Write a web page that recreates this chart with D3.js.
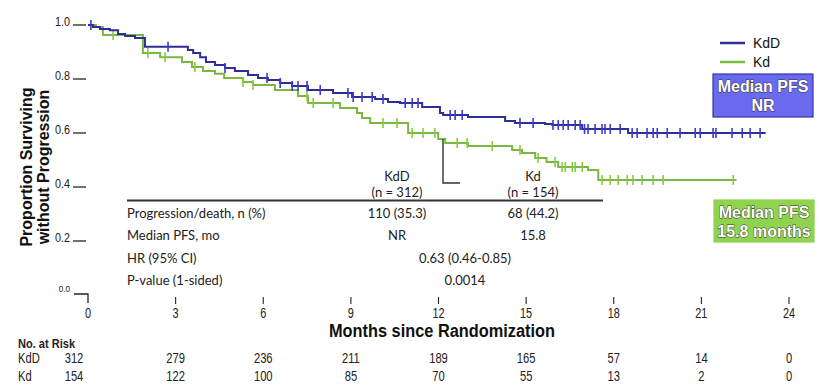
<!DOCTYPE html>
<html>
<head>
<meta charset="utf-8">
<script src="https://cdn.jsdelivr.net/npm/d3@7"></script>
<style>
  body { margin: 0; background: #fff; }
  svg { display: block; }
</style>
</head>
<body>
<svg id="km"></svg>
<script>
// step drops: [month, survival after drop]
const kddSteps = [[0.17,0.993],[0.41,0.985],[0.75,0.981],[1.03,0.967],[1.27,0.959],[1.61,0.952],[1.95,0.919],
  [3.42,0.907],[3.6,0.896],[3.84,0.881],[4.04,0.863],[4.35,0.852],[4.69,0.841],[5.03,0.830],[5.48,0.815],
  [5.82,0.804],[6.16,0.796],[6.58,0.785],[6.99,0.774],[7.53,0.759],[8.39,0.748],[9.04,0.733],[9.83,0.726],
  [10.27,0.715],[10.68,0.711],[11.44,0.696],[12.05,0.674],[12.16,0.667],[13.01,0.659],[14.28,0.644],
  [14.62,0.637],[15.65,0.633],[15.9,0.630],[16.92,0.615],[18.49,0.600]];
const kddEnd = 23.2;
const kddCensor = [0.1,2.74,4.69,6.13,6.58,6.99,7.19,7.5,7.95,8.9,9.08,9.38,9.73,10.1,10.86,11.1,11.3,12.4,12.57,
  12.81,14.79,15.24,15.92,16.1,16.27,16.44,16.68,16.85,17.0,17.12,17.36,17.6,17.7,17.88,18.22,18.63,18.8,19.14,
  19.35,19.49,19.83,20.27,20.79,20.96,21.4,21.5,22.05,22.4,22.67,23.01];

const kdSteps = [[0.27,0.993],[0.51,0.963],[1.88,0.896],[2.47,0.881],[3.22,0.863],[3.56,0.844],[3.94,0.830],
  [4.35,0.819],[4.66,0.804],[5.31,0.789],[5.65,0.778],[6.4,0.759],[7.19,0.737],[7.53,0.711],[8.63,0.693],
  [9.21,0.674],[9.38,0.656],[9.66,0.637],[10.96,0.600],[11.99,0.578],[12.23,0.563],[13.01,0.552],[14.52,0.537],
  [14.86,0.526],[15.31,0.507],[15.7,0.493],[16.1,0.474],[17.12,0.463],[17.47,0.426]];
const kdEnd = 22.2;
const kdCensor = [0.86,2.05,2.64,3.66,5.31,5.65,7.5,7.71,8.39,10.1,10.58,11.1,11.47,11.88,12.64,12.98,13.84,
  14.79,15.41,15.99,16.23,16.34,16.58,16.68,16.92,17.6,17.88,18.15,18.46,18.66,18.97,19.35,19.69,22.09];

const xTicks = [0,3,6,9,12,15,18,21,24];
const yTicks = [1.0,0.8,0.6,0.4,0.2];
const riskKdD = [312,279,236,211,189,165,57,14,0];
const riskKd = [154,122,100,85,70,55,13,2,0];

const tableRows = ["Progression/death, n (%)","Median PFS, mo","HR (95% CI)","P-value (1-sided)"];
const kddCol = ["110 (35.3)","NR"];
const kdCol = ["68 (44.2)","15.8"];
const sharedCol = ["0.63 (0.46-0.85)","0.0014"];

const W = 820, H = 389;
const svg = d3.select('#km').attr('width', W).attr('height', H);

const x = d3.scaleLinear().domain([0, 24]).range([88, 789]);
const y = d3.scaleLinear().domain([0, 1]).range([295, 25]);

const blue = '#2e2e94', blueMark = '#3b3bcf';
const green = '#7ab843', greenMark = '#86cc3c';
const arial = 'Liberation Sans, Arial, sans-serif';
const tableFont = 'Lato, "Open Sans", sans-serif';

// condensed text: squeeze horizontally around the anchor point
function narrowText(px, py, txt, size, anchor, sx) {
  return svg.append('text').attr('transform', `translate(${px},${py}) scale(${sx || 0.8},1)`)
    .attr('text-anchor', anchor || 'middle').style('font-family', arial)
    .style('font-size', size + 'px').attr('fill', '#222').text(txt);
}

// y axis ticks (underscore style)
yTicks.forEach(v => {
  svg.append('line').attr('x1', 73).attr('x2', 86).attr('y1', y(v)).attr('y2', y(v))
    .attr('stroke', '#222').attr('stroke-width', 1.3);
  narrowText(70, y(v) + 1, v.toFixed(1), 12, 'end', 0.9);
});
// zero corner
svg.append('path').attr('d', `M74,${y(0) - 1}H${x(0)}V${y(0) + 8}`)
  .attr('fill', 'none').attr('stroke', '#222').attr('stroke-width', 1.3);
narrowText(70, y(0) - 3, '0.0', 9, 'end', 0.9);

// x ticks
xTicks.forEach(v => {
  if (v > 0) {
    svg.append('line').attr('x1', x(v)).attr('x2', x(v)).attr('y1', 297).attr('y2', 304)
      .attr('stroke', '#222').attr('stroke-width', 1.1);
  }
  narrowText(x(v), 318, v, 14, 'middle', 0.78);
});

svg.append('text').attr('x', 442).attr('y', 337).attr('text-anchor', 'middle')
  .style('font-family', arial).style('font-weight', 'bold').style('font-size', '18px').attr('fill', '#111')
  .attr('textLength', 226).attr('lengthAdjust', 'spacingAndGlyphs')
  .text('Months since Randomization');

// y title
const yt = svg.append('text').attr('transform', 'translate(0,167) rotate(-90)')
  .attr('text-anchor', 'middle').style('font-family', arial)
  .style('font-weight', 'bold').style('font-size', '16px').attr('fill', '#111');
yt.append('tspan').attr('x', 0).attr('y', 32).text('Proportion Surviving');
yt.append('tspan').attr('x', 0).attr('y', 49).text('without Progression');

// KM curves
function stepPoints(steps, end) {
  const pts = [[0, 1]].concat(steps);
  pts.push([end, steps[steps.length - 1][1]]);
  return pts;
}
function survAt(steps, t) {
  let s = 1;
  steps.forEach(d => { if (d[0] <= t) s = d[1]; });
  return s;
}
const line = d3.line().x(d => x(d[0])).y(d => y(d[1])).curve(d3.curveStepAfter);

function drawCurve(steps, end, censor, col, markCol) {
  svg.append('path').datum(stepPoints(steps, end)).attr('d', line)
    .attr('fill', 'none').attr('stroke', col).attr('stroke-width', 2);
  svg.selectAll(null).data(censor).enter().append('line')
    .attr('x1', d => x(d)).attr('x2', d => x(d))
    .attr('y1', d => y(survAt(steps, d)) - 5).attr('y2', d => y(survAt(steps, d)) + 5)
    .attr('stroke', markCol).attr('stroke-width', 1.6);
}
drawCurve(kdSteps, kdEnd, kdCensor, green, greenMark);
drawCurve(kddSteps, kddEnd, kddCensor, blue, blueMark);

// bracket
svg.append('path').attr('d', `M443,${y(survAt(kdSteps, 12.1))}V183H460`)
  .attr('fill', 'none').attr('stroke', '#333').attr('stroke-width', 1.4);

// summary table
const tf = sel => sel.style('font-family', tableFont).style('font-size', '13px').attr('fill', '#222');
svg.append('line').attr('x1', 127).attr('x2', 603).attr('y1', 200.5).attr('y2', 200.5)
  .attr('stroke', '#333').attr('stroke-width', 2);
[['KdD', '(n = 312)', 397], ['Kd', '(n = 154)', 533]].forEach(h => {
  svg.append('text').attr('x', h[2]).attr('y', 181).attr('text-anchor', 'middle').call(tf).text(h[0]);
  svg.append('text').attr('x', h[2]).attr('y', 197).attr('text-anchor', 'middle').call(tf).text(h[1]);
});
const rowY = [218, 240, 263, 285];
tableRows.forEach((r, i) => {
  svg.append('text').attr('x', 127).attr('y', rowY[i]).call(tf).text(r);
});
kddCol.forEach((v, i) => svg.append('text').attr('x', 397).attr('y', rowY[i]).attr('text-anchor', 'middle').call(tf).text(v));
kdCol.forEach((v, i) => svg.append('text').attr('x', 533).attr('y', rowY[i]).attr('text-anchor', 'middle').call(tf).text(v));
sharedCol.forEach((v, i) => svg.append('text').attr('x', 465).attr('y', rowY[i + 2]).attr('text-anchor', 'middle').call(tf).text(v));

// legend
[['KdD', blue, 43], ['Kd', green, 62]].forEach(l => {
  svg.append('line').attr('x1', 720).attr('x2', 745).attr('y1', l[2]).attr('y2', l[2])
    .attr('stroke', l[1]).attr('stroke-width', 2.5);
  svg.append('text').attr('x', 753).attr('y', l[2] + 5).style('font-family', arial)
    .style('font-size', '14px').attr('fill', '#111').text(l[0]);
});

// median boxes
function medianBox(x0, y0, w, h, fill, stroke, lines) {
  svg.append('rect').attr('x', x0).attr('y', y0).attr('width', w).attr('height', h)
    .attr('fill', fill).attr('stroke', stroke).attr('stroke-width', 1.2);
  lines.forEach((t, i) => {
    svg.append('text').attr('x', x0 + w / 2).attr('y', y0 + 18 + i * 19).attr('text-anchor', 'middle')
      .style('font-family', arial).style('font-weight', 'bold')
      .style('font-size', '16px').attr('fill', '#fff')
      .attr('stroke', '#333').attr('stroke-width', 0.9).attr('paint-order', 'stroke')
      .text(t);
  });
}
medianBox(713, 74, 100, 43, '#6a6aee', '#3434a8', ['Median PFS', 'NR']);
medianBox(714, 200, 100, 42, '#8fd34e', '#8fd34e', ['Median PFS', '15.8 months']);

// number at risk
narrowText(18, 348, 'No. at Risk', 13, 'start', 0.85).style('font-weight', 'bold');
[['KdD', riskKdD, 363], ['Kd', riskKd, 381]].forEach(r => {
  narrowText(18, r[2], r[0], 14, 'start', 0.8);
  r[1].forEach((d, i) => narrowText(i === 0 ? 74 : x(xTicks[i]), r[2], d, 14, 'middle', 0.8));
});
</script>
</body>
</html>
